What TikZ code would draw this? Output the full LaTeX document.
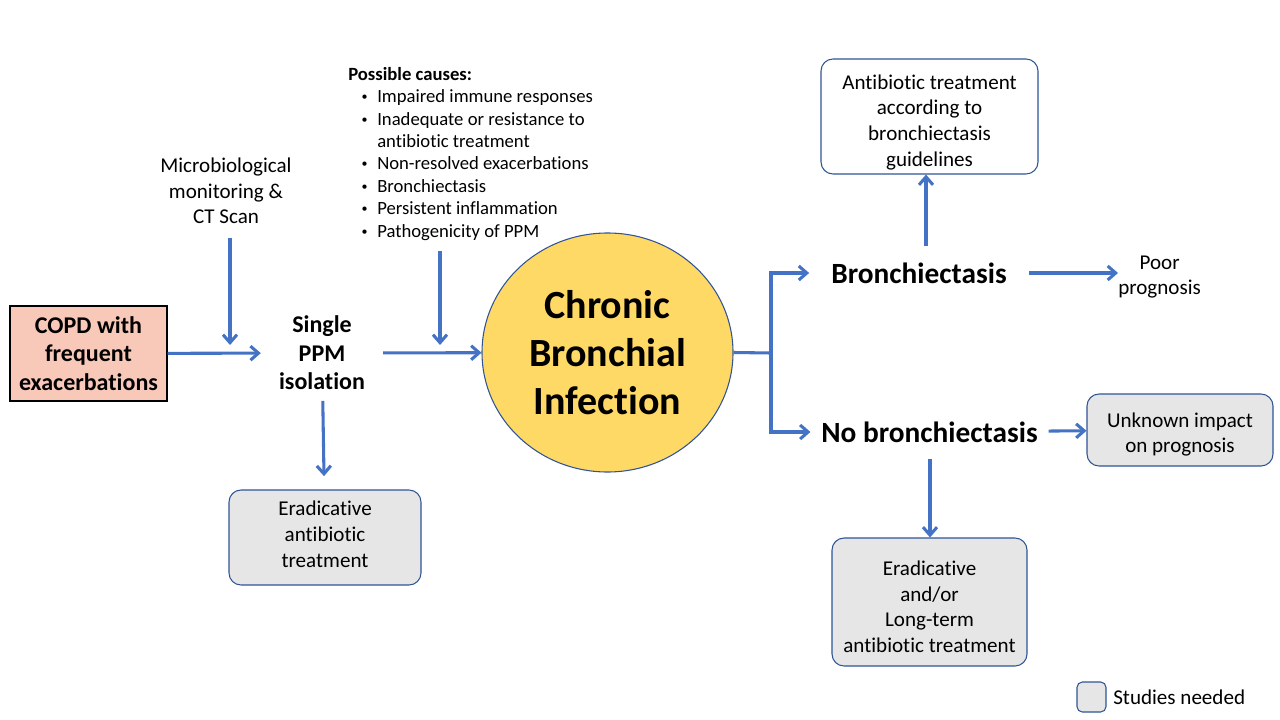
\documentclass[tikz,border=0pt]{standalone}
\usepackage{fontspec}
\setmainfont{Carlito}[Ligatures={NoCommon}]
\usepackage{xcolor}
\usetikzlibrary{arrows.meta,shapes.geometric}
\definecolor{arrowblue}{HTML}{4472C4}
\definecolor{boxblue}{HTML}{2F5597}
\definecolor{copdfill}{HTML}{F8C8B8}
\definecolor{cbifill}{HTML}{FFD966}
\definecolor{studyfill}{HTML}{E6E6E6}
\tikzset{
  arr/.style={-{Straight Barb[length=6pt,width=10.5pt]},line width=2.3pt,arrowblue},
  boxtext/.style={align=center,font=\fontsize{15.8pt}{19.2pt}\selectfont},
  boldtext/.style={align=center,font=\fontsize{18pt}{21.4pt}\selectfont\bfseries},
  studybox/.style={draw=boxblue,line width=0.8pt,fill=studyfill,rounded corners=9pt,boxtext,inner sep=0pt},
  plainbox/.style={draw=boxblue,line width=0.8pt,fill=white,rounded corners=9pt,boxtext,inner sep=0pt}
}
\newcommand{\causeitem}[1]{\hspace*{10pt}\makebox[11.75pt][l]{\raisebox{1.5pt}{\fontsize{9pt}{9pt}\selectfont\textbullet}}#1}
\newcommand{\causecont}[1]{\hspace*{21.75pt}#1}
\begin{document}
\begin{tikzpicture}[x=0.75pt,y=-0.75pt]
\useasboundingbox (0,0) rectangle (1280,720);
%%%NODES
\node[draw=black,line width=0.8pt,fill=copdfill,boldtext,minimum width=117.75pt,minimum height=71.25pt,inner sep=0pt] (copd) at (88.5,353.5) {COPD with\\frequent\\exacerbations};
\node[boxtext,inner sep=0pt] (micro) at (226,191) {Microbiological\\monitoring \&\\CT Scan};
\node[boldtext,inner xsep=13.5pt,inner ysep=8pt] (single) at (322,353) {Single\\PPM\\isolation};
\node[studybox,minimum width=144pt,minimum height=71.25pt] (erad) at (325,537.5) {Eradicative\\antibiotic\\treatment\rule[-5pt]{0pt}{0pt}};
\node[align=left,anchor=north west,inner sep=0pt,font=\fontsize{14pt}{16.8pt}\selectfont] (causes) at (348,67) {\textbf{Possible causes:}\\
\causeitem{Impaired immune responses}\\
\causeitem{Inadequate or resistance to}\\
\causecont{antibiotic treatment}\\
\causeitem{Non-resolved exacerbations}\\
\causeitem{Bronchiectasis}\\
\causeitem{Persistent inflammation}\\
\causeitem{Pathogenicity of PPM}};
\node[ellipse,draw=boxblue,line width=0.8pt,fill=cbifill,minimum width=188.25pt,minimum height=179.25pt,inner sep=0pt,align=center,font=\fontsize{30pt}{36pt}\selectfont\bfseries] (cbi) at (607.5,352.5) {Chronic\\Bronchial\\Infection};
\node[boldtext,font=\fontsize{22pt}{24pt}\selectfont\bfseries,inner xsep=16.5pt,inner ysep=12pt] (bronch) at (919,273) {Bronchiectasis};
\node[plainbox,minimum width=162.75pt,minimum height=86.25pt] (anti) at (929.5,116.5) {\rule{0pt}{19.5pt}Antibiotic treatment\\according to\\bronchiectasis\\guidelines};
\node[boxtext,inner sep=0pt,anchor=west] (poor) at (1118,277) {\phantom{p}Poor\phantom{p}\\prognosis};
\node[boldtext,font=\fontsize{22pt}{24pt}\selectfont\bfseries,inner xsep=8pt,inner ysep=12pt] (nobronch) at (929.5,432) {No bronchiectasis};
\node[studybox,minimum width=139.5pt,minimum height=54pt] (unknown) at (1180,430) {\rule{0pt}{18pt}Unknown impact\\on prognosis};
\node[studybox,minimum width=146.25pt,minimum height=96pt] (longterm) at (929.5,602) {\rule{0pt}{18pt}Eradicative\\and/or\\Long-term\\antibiotic treatment};
\node[studybox,rounded corners=4pt,minimum width=21.75pt,minimum height=22.5pt] (legend) at (1091.5,697) {};
\node[boxtext,anchor=west,inner sep=0pt] (legendtext) at (1113,697) {Studies needed};
%%%JOINTS
\coordinate (m1) at (230,345);
\coordinate (c1) at (440,345);
\coordinate (br) at (771,353);
%%%ARROWS
\draw[arr] (copd) -- (single);
\draw[arr,shorten <=10pt] (micro.south -| m1) -- (m1);
\draw[arr,shorten >=10pt] (single) -- (erad);
\draw[arr] (single) -- (cbi);
\draw[arr,shorten <=8pt] (causes.south -| c1) -- (c1);
\draw[line width=2.3pt,arrowblue] (cbi.east) -- (br);
\draw[arr] (br) |- (bronch);
\draw[arr] (br) |- (nobronch);
\draw[arr] (bronch.north -| 926,0) -- (anti.south -| 926,0);
\draw[arr] (bronch) -- (poor.west |- bronch);
\draw[arr] (nobronch) -- (unknown);
\draw[arr] (nobronch.south -| 930,0) -- (longterm.north -| 930,0);
\end{tikzpicture}
\end{document}
